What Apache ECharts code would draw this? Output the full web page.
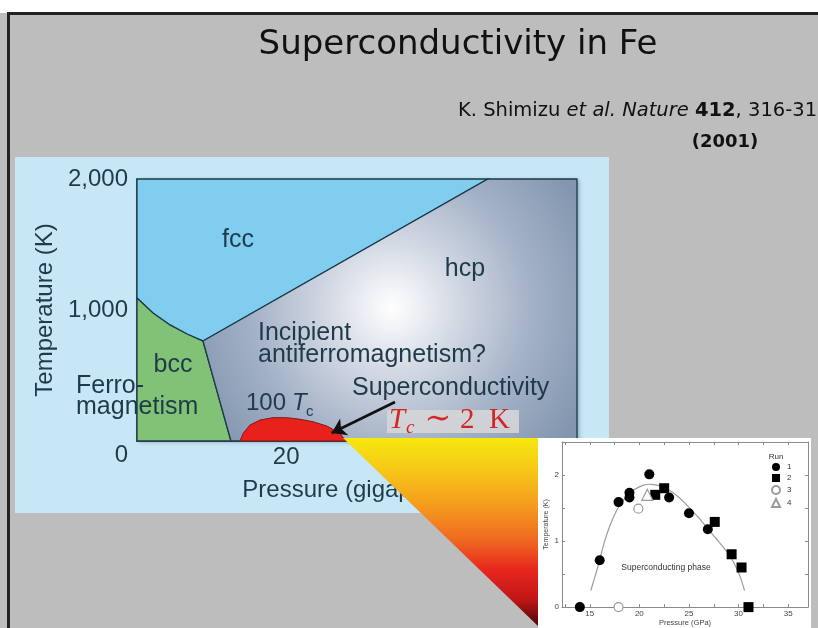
<!DOCTYPE html>
<html>
<head>
<meta charset="utf-8">
<script src="https://cdn.jsdelivr.net/npm/echarts@6/dist/echarts.min.js"></script>
<style>
  html, body { margin: 0; padding: 0; background: #ffffff; }
  #chart { width: 818px; height: 628px; }
</style>
</head>
<body>
<div id="chart"></div>
<script>
// ---------- Phase diagram of iron (pressure in GPa, temperature in K) ----------
const pressureMax = 59;
const temperatureMax = 2000;
const tempTicks = [0, 1000, 2000];
const pressureTicks = [20];

// bcc / fcc boundary, from the temperature axis down to the triple point
const bccFccBoundary = [[0, 1092], [2.14, 977], [4.42, 886], [6.7, 817], [8.85, 763]];
// bcc / hcp boundary: triple point to the pressure axis
const bccHcpBoundary = [[8.85, 763], [12.6, 0]];
// fcc / hcp boundary: triple point to the top of the plot
const fccHcpBoundary = [[8.85, 763], [47.05, 2000]];
// superconducting dome, plotted as 100 x Tc
const scDome = [[13.81, 0], [14.25, 59], [15.15, 122], [16.49, 160], [18.23, 178], [20.07, 178],
                [21.85, 166], [23.59, 147], [25.43, 115], [27.21, 59], [28.0, 0]];
// arrow from the "Superconductivity" label to the dome
const arrowPath = [[34.6, 298], [26.1, 61]];

// ---------- Inset: Tc versus pressure ----------
const insetPressureTicks = [15, 20, 25, 30, 35];
const insetPressureMinor = [12.5, 15, 17.5, 20, 22.5, 25, 27.5, 30, 32.5, 35];
const run1 = [[14.0, 0], [16.0, 0.71], [17.9, 1.59], [19.0, 1.73], [19.0, 1.66], [21.0, 2.01],
              [23.0, 1.66], [25.0, 1.42], [26.9, 1.18]];
const run2 = [[21.6, 1.70], [22.5, 1.80], [27.6, 1.29], [29.3, 0.80], [30.3, 0.60], [31.0, 0]];
const run3 = [[19.9, 1.49], [17.9, 0]];
const run4 = [[20.8, 1.70]];
const tcCurve = [[15.1, 0.25], [15.4, 0.4], [15.7, 0.55], [16, 0.72], [16.5, 1.0], [17, 1.22], [17.5, 1.4],
                 [18, 1.54], [18.5, 1.64], [19, 1.72], [19.5, 1.78], [20, 1.82], [20.5, 1.85], [21, 1.86],
                 [21.5, 1.855], [22, 1.84], [22.5, 1.81], [23, 1.77], [23.5, 1.72], [24, 1.66], [24.5, 1.59],
                 [25, 1.51], [25.5, 1.43], [26, 1.35], [26.5, 1.26], [27, 1.17], [27.5, 1.08], [28, 0.99],
                 [28.5, 0.9], [29, 0.8], [29.5, 0.68], [30, 0.52], [30.3, 0.4], [30.6, 0.25]];

const ink = '#1f3a49';
const sans = 'Liberation Sans';
const tagRed = '#d22626';

// region polygons built from the boundaries
const regions = [
  { name: 'fcc', fill: '#80cdf0',
    pts: [[0, temperatureMax], fccHcpBoundary[1], ...bccFccBoundary.slice().reverse()] },
  { name: 'bcc', fill: '#82c276',
    pts: [[0, 0], ...bccFccBoundary, bccHcpBoundary[1]] },
  { name: 'hcp',
    fill: new echarts.graphic.RadialGradient(0.505, 0.49, 0.82, [
      { offset: 0, color: '#ffffff' },
      { offset: 0.3, color: '#d3d9e4' },
      { offset: 0.65, color: '#a3b1c6' },
      { offset: 1, color: '#8296af' }
    ]),
    pts: [fccHcpBoundary[0], fccHcpBoundary[1], [pressureMax, temperatureMax], [pressureMax, 0], bccHcpBoundary[1]] },
  { name: 'dome', fill: '#e8211c', stroke: '#7d1a16', pts: scDome }
];

function thousands(v) { return String(v).replace(/\B(?=(\d{3})+(?!\d))/g, ','); }

function txt(x, y, text, opt) {
  opt = opt || {};
  return {
    type: 'text', x: x, y: y, z: opt.z || 10,
    style: {
      text: text,
      fill: opt.fill || ink,
      fontSize: opt.size || 25,
      fontFamily: opt.family || sans,
      fontStyle: opt.italic ? 'italic' : 'normal',
      fontWeight: opt.bold ? 'bold' : 'normal',
      align: opt.align || 'left', textAlign: opt.align || 'left',
      verticalAlign: 'middle', textVerticalAlign: 'middle'
    }
  };
}

const chart = echarts.init(document.getElementById('chart'));

const option = {
  backgroundColor: '#bdbdbd',
  animation: false,
  grid: [
    { left: 137, top: 179, width: 440, height: 262, show: true, borderWidth: 0,
      backgroundColor: '#8296af', shadowColor: 'rgba(20,40,60,0.35)', shadowBlur: 4, shadowOffsetX: 2, shadowOffsetY: 1 },
    { left: 562, top: 442, width: 246, height: 166 }
  ],
  xAxis: [
    { gridIndex: 0, type: 'value', min: 0, max: pressureMax,
      axisLine: { show: true, lineStyle: { color: '#1d3644', width: 1.5 } },
      axisTick: { show: false }, splitLine: { show: false },
      axisLabel: { customValues: pressureTicks, fontSize: 24, fontFamily: sans, color: ink, margin: 4 },
      name: 'Pressure (gigapascals)', nameLocation: 'middle', nameGap: 37,
      nameTextStyle: { fontSize: 24, fontFamily: sans, color: ink, padding: [0, 0, 0, 16] } },
    { gridIndex: 1, type: 'value', min: 12.2, max: 37, z: 6,
      axisLine: { show: true, onZero: false, lineStyle: { color: '#8a8a8a', width: 1 } },
      axisTick: { show: true, inside: true, length: 3, customValues: insetPressureMinor, lineStyle: { color: '#8a8a8a' } },
      splitLine: { show: false },
      axisLabel: { customValues: insetPressureTicks, fontSize: 8, color: '#444', margin: 3, fontFamily: sans },
      name: 'Pressure (GPa)', nameLocation: 'middle', nameGap: 11,
      nameTextStyle: { fontSize: 7.5, color: '#444', fontFamily: sans } },
    { gridIndex: 1, type: 'value', min: 12.2, max: 37, position: 'top', z: 6,
      axisLine: { show: true, onZero: false, lineStyle: { color: '#8a8a8a', width: 1 } },
      axisTick: { show: true, inside: true, length: 3, customValues: insetPressureMinor, lineStyle: { color: '#8a8a8a' } },
      splitLine: { show: false }, axisLabel: { show: false } }
  ],
  yAxis: [
    { gridIndex: 0, type: 'value', min: 0, max: temperatureMax, interval: 1000,
      axisLine: { show: true, lineStyle: { color: '#1d3644', width: 1.5 } },
      axisTick: { show: false }, splitLine: { show: false },
      axisLabel: {
        customValues: tempTicks, fontSize: 24, fontFamily: sans, color: ink, margin: 9,
        formatter: function (v) { return v === 0 ? '{z|0}' : thousands(v); },
        rich: { z: { fontSize: 24, fontFamily: sans, color: ink, padding: [28, 0, 0, 0] } }
      },
      name: 'Temperature (K)', nameLocation: 'middle', nameGap: 77, nameRotate: 90,
      nameTextStyle: { fontSize: 24, fontFamily: sans, color: ink } },
    { gridIndex: 1, type: 'value', min: 0, max: 2.5, interval: 1, z: 6,
      axisLine: { show: true, onZero: false, lineStyle: { color: '#8a8a8a', width: 1 } },
      axisTick: { show: true, inside: true, length: 3, lineStyle: { color: '#8a8a8a' } },
      minorTick: { show: true, splitNumber: 2, length: 3, lineStyle: { color: '#8a8a8a' } },
      splitLine: { show: false },
      axisLabel: { fontSize: 8, color: '#444', margin: 3, fontFamily: sans,
        formatter: function (v) { return v <= 2 ? String(v) : ''; } },
      name: 'Temperature (K)', nameLocation: 'middle', nameGap: 12, nameRotate: 90,
      nameTextStyle: { fontSize: 7, color: '#444', fontFamily: sans } },
    { gridIndex: 1, type: 'value', min: 0, max: 2.5, interval: 1, position: 'right', z: 6,
      axisLine: { show: true, onZero: false, lineStyle: { color: '#8a8a8a', width: 1 } },
      axisTick: { show: true, inside: true, length: 3, lineStyle: { color: '#8a8a8a' } },
      minorTick: { show: true, splitNumber: 2, length: 3, lineStyle: { color: '#8a8a8a' } },
      splitLine: { show: false }, axisLabel: { show: false } }
  ],
  legend: {
    data: ['1', '2', '3', '4'], orient: 'vertical', left: 771, top: 463, z: 8,
    itemWidth: 8, itemHeight: 8, itemGap: 3, padding: 0,
    textStyle: { fontSize: 8, color: '#333', fontFamily: sans, padding: [0, 0, 0, 2] }
  },
  series: [
    { type: 'custom', name: 'phases', xAxisIndex: 0, yAxisIndex: 0, z: 2,
      data: regions.map(function (r, i) { return [i]; }),
      renderItem: function (params, api) {
        const r = regions[params.dataIndex];
        return {
          type: 'polygon',
          shape: { points: r.pts.map(function (p) { return api.coord(p); }) },
          style: { fill: r.fill, stroke: r.stroke || '#1d3a4a', lineWidth: r.stroke ? 1 : 1.3 }
        };
      } },
    { type: 'lines', coordinateSystem: 'cartesian2d', xAxisIndex: 0, yAxisIndex: 0, z: 4,
      symbol: ['none', 'arrow'], symbolSize: 14,
      lineStyle: { color: '#111111', width: 2.6, opacity: 1 },
      data: [{ coords: arrowPath }] },
    { type: 'line', name: 'fit', xAxisIndex: 1, yAxisIndex: 1, z: 5, data: tcCurve,
      showSymbol: false, smooth: 0.3, lineStyle: { color: '#9c9c9c', width: 1.2 }, silent: true },
    { type: 'scatter', name: '1', xAxisIndex: 1, yAxisIndex: 1, z: 6, data: run1,
      symbol: 'circle', symbolSize: 10, itemStyle: { color: '#000000', opacity: 1 } },
    { type: 'scatter', name: '2', xAxisIndex: 1, yAxisIndex: 1, z: 6, data: run2,
      symbol: 'rect', symbolSize: 10, itemStyle: { color: '#000000', opacity: 1 } },
    { type: 'scatter', name: '3', xAxisIndex: 1, yAxisIndex: 1, z: 6, data: run3,
      symbol: 'circle', symbolSize: 9, itemStyle: { color: '#ffffff', borderColor: '#9a9a9a', borderWidth: 1.2, opacity: 1 } },
    { type: 'scatter', name: '4', xAxisIndex: 1, yAxisIndex: 1, z: 6, data: run4,
      symbol: 'triangle', symbolSize: 11, itemStyle: { color: '#ffffff', borderColor: '#9a9a9a', borderWidth: 1.2, opacity: 1 } }
  ],
  graphic: [
    // slide frame
    { type: 'rect', z: -10, shape: { x: 0, y: 0, width: 818, height: 13 }, style: { fill: '#ffffff' } },
    { type: 'rect', z: -10, shape: { x: 7, y: 12, width: 811, height: 3 }, style: { fill: '#222222' } },
    { type: 'rect', z: -10, shape: { x: 7, y: 12, width: 3, height: 616 }, style: { fill: '#222222' } },
    // light blue figure panel
    { type: 'rect', z: -9, shape: { x: 15, y: 157, width: 594, height: 356 }, style: { fill: '#c8e7f6' } },
    // zoom wedge leading to the inset
    { type: 'polygon', z: 3, shape: { points: [[343, 438], [538, 438], [538, 626]] },
      style: { fill: new echarts.graphic.LinearGradient(0, 0, 0, 1, [
        { offset: 0, color: '#f6e80e' }, { offset: 0.17, color: '#f7c718' },
        { offset: 0.33, color: '#f5a31d' }, { offset: 0.54, color: '#ef6a20' },
        { offset: 0.7, color: '#e8261e' }, { offset: 0.86, color: '#c01616' },
        { offset: 1, color: '#4a0606' }]) } },
    // inset panel
    { type: 'rect', z: 3, shape: { x: 538, y: 438, width: 273, height: 190 }, style: { fill: '#ffffff' } },

    // slide title and reference
    txt(458, 45, 'Superconductivity in Fe', { size: 34, family: 'DejaVu Sans', fill: '#111111', align: 'center' }),
    { type: 'text', x: 458, y: 111, z: 10,
      style: { text: 'K. Shimizu {i|et al. Nature} {b|412}, 316-318', fill: '#111111', fontSize: 19.5,
        fontFamily: 'DejaVu Sans', align: 'left', verticalAlign: 'middle', textAlign: 'left', textVerticalAlign: 'middle',
        rich: { i: { fontStyle: 'italic', fontSize: 19.5, fontFamily: 'DejaVu Sans', fill: '#111111' },
                b: { fontWeight: 'bold', fontSize: 19.5, fontFamily: 'DejaVu Sans', fill: '#111111' } } } },
    txt(725, 142, '(2001)', { size: 18, family: 'DejaVu Sans', bold: true, fill: '#111111', align: 'center' }),

    // phase labels
    txt(238, 240, 'fcc', { align: 'center' }),
    txt(465, 269, 'hcp', { align: 'center' }),
    txt(258, 333, 'Incipient'),
    txt(258, 355, 'antiferromagnetism?'),
    txt(173, 365, 'bcc', { align: 'center' }),
    txt(76, 386, 'Ferro-'),
    txt(76, 407, 'magnetism'),
    txt(246, 403, '100', { size: 24 }),
    txt(292, 403, 'T', { size: 24, italic: true }),
    txt(306, 412, 'c', { size: 15 }),
    txt(352, 388, 'Superconductivity'),

    // Tc ~ 2 K tag
    { type: 'rect', z: 9, shape: { x: 387, y: 410, width: 132, height: 23 }, style: { fill: 'rgba(214,214,216,0.88)' } },
    txt(389, 420, 'T', { size: 29, family: 'Liberation Serif', italic: true, fill: tagRed }),
    txt(406, 428, 'c', { size: 19, family: 'Liberation Serif', italic: true, fill: tagRed }),
    txt(438, 420, '\u223C', { size: 32, family: 'DejaVu Serif', fill: tagRed, align: 'center' }),
    txt(460, 420, '2', { size: 29, family: 'Liberation Serif', fill: tagRed }),
    txt(489, 420, 'K', { size: 29, family: 'Liberation Serif', fill: tagRed }),

    // inset annotations
    txt(666, 568, 'Superconducting phase', { size: 8.5, fill: '#333333', align: 'center' }),
    txt(776, 457, 'Run', { size: 8, fill: '#333333', align: 'center' })
  ]
};

chart.setOption(option);
</script>
</body>
</html>
